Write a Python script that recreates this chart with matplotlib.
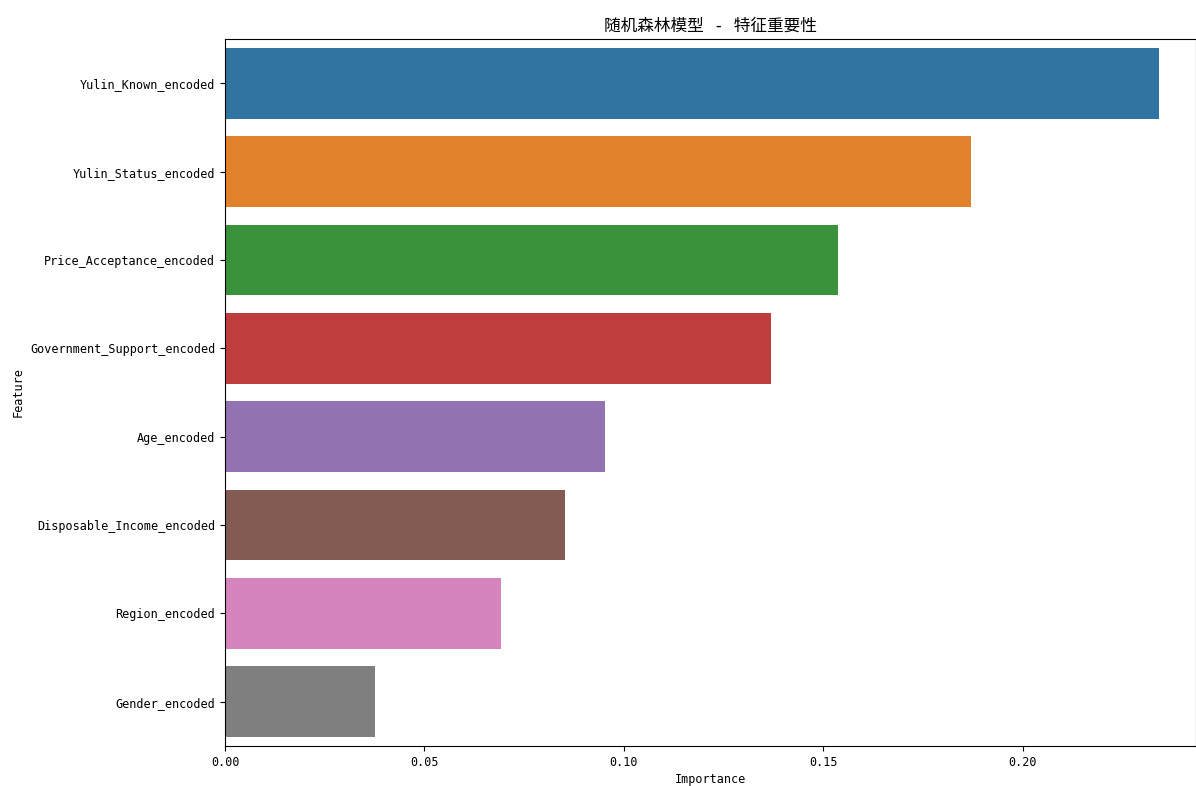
import matplotlib
matplotlib.use("Agg")
import matplotlib.pyplot as plt
import seaborn as sns
import pandas as pd

features = ["Yulin_Known_encoded", "Yulin_Status_encoded", "Price_Acceptance_encoded",
            "Government_Support_encoded", "Age_encoded", "Disposable_Income_encoded",
            "Region_encoded", "Gender_encoded"]
importance = [0.2341, 0.1870, 0.1536, 0.1368, 0.0952, 0.0852, 0.0692, 0.0376]
title = "随机森林模型 - 特征重要性"

plt.rcParams['font.family'] = ['DejaVu Sans Mono', 'Noto Sans CJK SC']
plt.rcParams['axes.unicode_minus'] = False

df = pd.DataFrame({"Feature": features, "Importance": importance})

fig = plt.figure(figsize=(11.96, 7.86), dpi=100)
ax = fig.add_axes([225/1196, 1 - 746/786, 971/1196, (746 - 39)/786])
sns.barplot(data=df, x="Importance", y="Feature", hue="Feature", palette="tab10",
            legend=False, ax=ax)
ax.set_xlim(0, 0.2434)
ax.set_ylim(7.5, -0.5)
ax.set_title(title, fontsize=12, pad=6)
ax.set_xlabel("Importance", fontsize=8.5, labelpad=3)
ax.set_ylabel("Feature", fontsize=8.5, labelpad=4)
ax.tick_params(labelsize=8.5)
fig.savefig("out.png", dpi=100)
